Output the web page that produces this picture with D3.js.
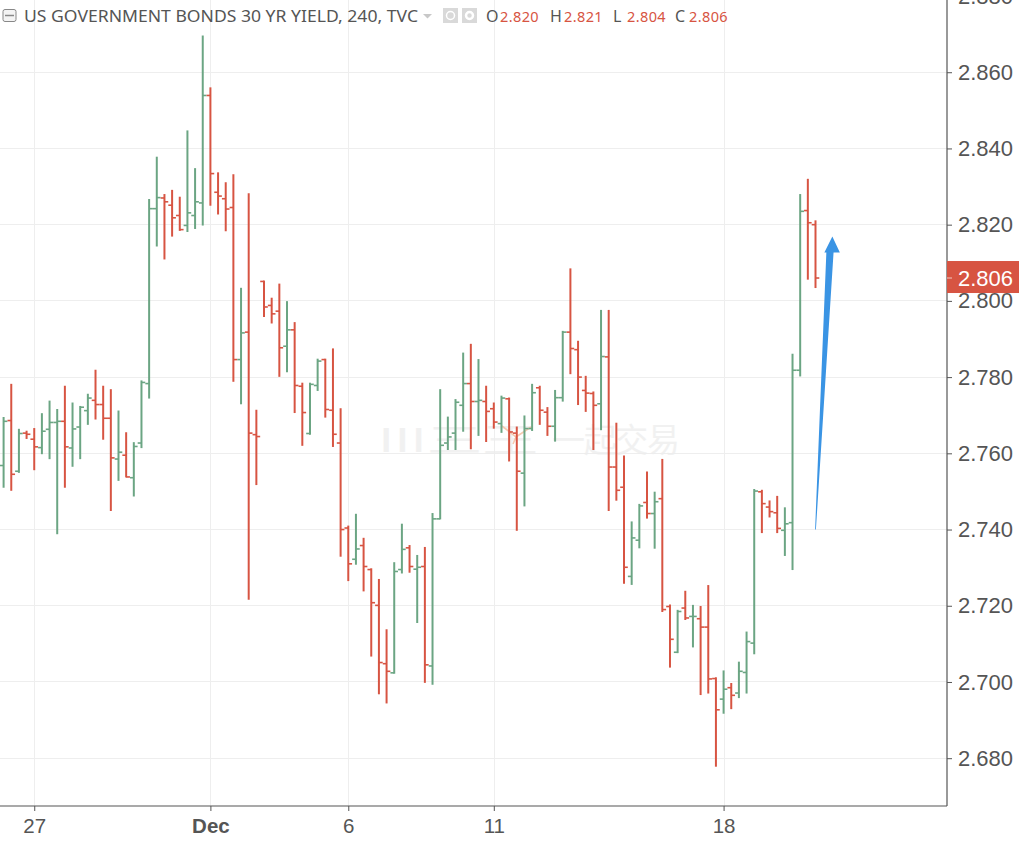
<!DOCTYPE html>
<html><head><meta charset="utf-8">
<script src="https://cdn.jsdelivr.net/npm/d3@7"></script>
<style>html,body{margin:0;padding:0;background:#fff;overflow:hidden}svg{display:block}</style>
</head><body><div id="chart"></div>
<script>
const opens=[2.7568,2.7686,2.7553,2.7653,2.7637,2.7615,2.7663,2.7681,2.7684,2.7614,2.7669,2.7712,2.7739,2.7728,2.7692,2.7585,2.7595,2.7536,2.7627,2.7783,2.8242,2.8270,2.8251,2.8224,2.8198,2.8224,2.8257,2.8539,2.8285,2.8268,2.8245,2.7846,2.7918,2.7649,2.8051,2.7988,2.7973,2.7881,2.7924,2.7776,2.7652,2.7778,2.7846,2.7713,2.7627,2.7404,2.7322,2.7358,2.7295,2.7201,2.7048,2.7024,2.7295,2.7352,2.7296,2.7303,2.7042,2.7428,2.7627,2.7653,2.7726,2.7783,2.7736,2.7736,2.7717,2.7678,2.7743,2.7653,2.7548,2.7665,2.7772,2.7708,2.7671,2.7746,2.7918,2.7872,2.7765,2.7757,2.7730,2.7853,2.7564,2.7511,2.7277,2.7372,2.7471,2.7442,2.7481,2.7198,2.7078,2.7194,2.7172,2.7166,2.7144,2.7009,2.6955,2.6985,2.6971,2.7025,2.7102,2.7499,2.7459,2.7444,2.7398,2.7418,2.7818,2.8237,2.820];
const highs=[2.7694,2.7781,2.7663,2.7658,2.7665,2.7704,2.7737,2.7715,2.7776,2.7732,2.7723,2.7755,2.7818,2.7776,2.7767,2.7711,2.7654,2.7628,2.7790,2.8266,2.8377,2.8279,2.8290,2.8272,2.8446,2.8347,2.8695,2.8559,2.8336,2.8310,2.8331,2.8033,2.8281,2.7713,2.8052,2.8007,2.8044,2.7998,2.7943,2.7784,2.7784,2.7847,2.7847,2.7874,2.7717,2.7409,2.7440,2.7377,2.7297,2.7269,2.7137,2.7313,2.7414,2.7358,2.7332,2.7353,2.7442,2.7767,2.7695,2.7741,2.7863,2.7886,2.7846,2.7776,2.7732,2.7750,2.7745,2.7669,2.7698,2.7781,2.7776,2.7720,2.7765,2.7920,2.8084,2.7894,2.7802,2.7761,2.7975,2.7975,2.7679,2.7593,2.7420,2.7466,2.7551,2.7498,2.7584,2.7202,2.7188,2.7238,2.7201,2.7198,2.7253,2.7011,2.7029,2.6996,2.7052,2.7131,2.7505,2.7503,2.7475,2.7487,2.7457,2.7860,2.8279,2.8319,2.821];
const lows=[2.7511,2.7503,2.7550,2.7639,2.7557,2.7599,2.7586,2.7389,2.7511,2.7566,2.7586,2.7676,2.7690,2.7637,2.7450,2.7529,2.7538,2.7488,2.7615,2.7745,2.8144,2.8110,2.8170,2.8185,2.8182,2.8190,2.8199,2.8251,2.8228,2.8184,2.7789,2.7730,2.7217,2.7518,2.7959,2.7942,2.7802,2.7814,2.7707,2.7621,2.7650,2.7765,2.7695,2.7618,2.7330,2.7266,2.7309,2.7239,2.7068,2.6969,2.6945,2.7023,2.7286,2.7288,2.7156,2.6999,2.6994,2.7428,2.7610,2.7610,2.7658,2.7612,2.7647,2.7631,2.7666,2.7655,2.7580,2.7398,2.7462,2.7660,2.7676,2.7647,2.7632,2.7737,2.7809,2.7728,2.7710,2.7610,2.7662,2.7450,2.7477,2.7259,2.7256,2.7352,2.7430,2.7351,2.7185,2.7039,2.7077,2.7164,2.7092,2.6967,2.6971,2.6779,2.6918,2.6930,2.6959,2.6971,2.7074,2.7392,2.7433,2.7392,2.7332,2.7295,2.7803,2.8057,2.8035];
const closes=[2.7684,2.7545,2.7652,2.7650,2.7617,2.7658,2.7681,2.7684,2.7617,2.7664,2.7721,2.7745,2.7728,2.7692,2.7588,2.7603,2.7538,2.7618,2.7786,2.8242,2.8271,2.8260,2.8218,2.8187,2.8231,2.8260,2.8539,2.8334,2.8275,2.8241,2.7846,2.7916,2.7653,2.7644,2.7984,2.7966,2.7877,2.7924,2.7778,2.7707,2.7781,2.7842,2.7715,2.7650,2.7400,2.7310,2.7349,2.7303,2.7208,2.7051,2.7028,2.7290,2.7348,2.7303,2.7301,2.7045,2.7428,2.7621,2.7643,2.7734,2.7783,2.7736,2.7739,2.7710,2.7682,2.7745,2.7656,2.7553,2.7665,2.7759,2.7713,2.7671,2.7746,2.7918,2.7875,2.7800,2.7758,2.7726,2.7854,2.7564,2.7503,2.7301,2.7378,2.7462,2.7442,2.7473,2.7190,2.7112,2.7185,2.7168,2.7172,2.7144,2.7008,2.6927,2.6981,2.6965,2.7028,2.7106,2.7501,2.7468,2.7447,2.7403,2.7415,2.7818,2.8235,2.8205,2.806];
const priceTicks=[2.68,2.70,2.72,2.74,2.76,2.78,2.80,2.82,2.84,2.86,2.88];
const timeLabels=["27","Dec","6","11","18"];
const timeIndex=[4,27,45,64,94];
const title="US GOVERNMENT BONDS 30 YR YIELD, 240, TVC";
const ohlcNames=["O","H","L","C"];
const ohlcValues=["2.820","2.821","2.804","2.806"];
const lastPrice=2.806;
const arrowFrom={i:106,v:2.740}, arrowTip={i:108.2,v:2.8169};

const W=1019,H=841,axisX=947,axisY=806;
const green="#6ba583",red="#d75442",ink="#555555",grid="#eeeeee";
const x=d3.scaleLinear().domain([0,106]).range([3.6,815.5]);
const y=d3.scaleLinear().domain([2.68,2.88]).range([758.2,-4.0]);
const svg=d3.select("#chart").append("svg").attr("width",W).attr("height",H);
const sans="'Liberation Sans',Arial,sans-serif", leg="'Noto Sans','Open Sans',sans-serif";

// grid
const g=svg.append("g").attr("shape-rendering","crispEdges").attr("stroke",grid).attr("stroke-width",1);
g.selectAll(".h").data(priceTicks).join("line").attr("x1",0).attr("x2",axisX).attr("y1",d=>y(d)).attr("y2",d=>y(d));
g.selectAll(".v").data(timeIndex).join("line").attr("y1",0).attr("y2",axisY).attr("x1",d=>x(d)+.5).attr("x2",d=>x(d)+.5);

// watermark
const wm=svg.append("g").attr("fill","#ededed").attr("font-family","'Noto Sans CJK SC'").attr("font-size",33).attr("opacity",.75);
wm.append("text").attr("x",378).attr("y",452).attr("textLength",160).attr("lengthAdjust","spacingAndGlyphs").text("III三王");
wm.append("text").attr("x",552).attr("y",452).text("一起交易").attr("textLength",128);
svg.append("path").attr("d","M502 426L516 437L531 427M516 437L513 444").attr("fill","none").attr("stroke","#f6c9b0").attr("stroke-width",1.6);

// OHLC bars
const idx=d3.range(opens.length);
const bars=svg.append("g").selectAll("g").data(idx).join("g")
  .attr("stroke",i=>closes[i]>=opens[i]?green:red).attr("fill","none");
bars.append("line").attr("stroke-width",2).attr("x1",i=>x(i)).attr("x2",i=>x(i)).attr("y1",i=>y(highs[i])-.5).attr("y2",i=>y(lows[i])+.5);
bars.append("line").attr("stroke-width",1.6).attr("x1",i=>x(i)-3.8).attr("x2",i=>x(i)).attr("y1",i=>y(opens[i])).attr("y2",i=>y(opens[i]));
bars.append("line").attr("stroke-width",1.6).attr("x1",i=>x(i)).attr("x2",i=>x(i)+3.8).attr("y1",i=>y(closes[i])).attr("y2",i=>y(closes[i]));

// blue arrow
const ax0=x(arrowFrom.i),ay0=y(arrowFrom.v),ax1=x(arrowTip.i),ay1=y(arrowTip.v);
svg.append("path").attr("fill","#3a94e4").attr("d",d3.line()([
 [ax0-.4,ay0],[ax1-6,ay1+16],[ax1-8,ay1+16],[ax1,ay1],[ax1+7.5,ay1+16],[ax1+1.2,ay1+16],[ax0+.4,ay0]])+"Z");

// axes
const yAxis=d3.axisRight(y).tickValues(priceTicks).tickFormat(d3.format(".3f")).tickSize(5).tickPadding(6);
const ya=svg.append("g").attr("transform",`translate(${axisX},0)`).call(yAxis);
ya.select(".domain").attr("d",`M0,0V${axisY}`).attr("stroke",ink).attr("stroke-width",1.2);
ya.selectAll(".tick line").attr("stroke",ink);
ya.selectAll(".tick text").attr("font-family",sans).attr("font-size",22).attr("fill",ink);
const xAxis=d3.axisBottom(x).tickValues(timeIndex).tickFormat((d,i)=>timeLabels[i]).tickSize(5).tickPadding(7);
const xa=svg.append("g").attr("transform",`translate(0,${axisY})`).call(xAxis);
xa.select(".domain").attr("d",`M0,0H${axisX}`).attr("stroke",ink).attr("stroke-width",1.2);
xa.selectAll(".tick line").attr("stroke",ink);
xa.selectAll(".tick text").attr("font-family",sans).attr("font-size",20.5).attr("fill",ink).attr("font-weight",d=>d===27?"bold":"normal");

// last price label
const ly=y(lastPrice);
svg.append("rect").attr("x",axisX).attr("y",ly-17).attr("width",W-axisX).attr("height",32).attr("fill",red);
svg.append("line").attr("x1",axisX).attr("x2",axisX+5).attr("y1",ly).attr("y2",ly).attr("stroke","#f3c6bf");
svg.append("text").attr("x",958).attr("y",ly).attr("dy","0.35em").attr("font-family",sans).attr("font-size",22).attr("fill","#fff").text(d3.format(".3f")(lastPrice));

// legend
svg.append("rect").attr("x",3).attr("y",9.5).attr("width",13).attr("height",12).attr("rx",2).attr("fill","#f4f4f4").attr("stroke","#888");
svg.append("line").attr("x1",5).attr("x2",14).attr("y1",15.5).attr("y2",15.5).attr("stroke","#888").attr("stroke-width",1.5);
svg.append("text").attr("x",24).attr("y",22).attr("font-family",leg).attr("font-size",16).attr("fill",ink).attr("textLength",394).attr("lengthAdjust","spacingAndGlyphs").text(title);
svg.append("path").attr("d","M423 14H432L427.5 18.5Z").attr("fill","#c8c8c8");
[443,462].forEach(px=>svg.append("rect").attr("x",px).attr("y",8).attr("width",15).attr("height",15).attr("fill","#d9d9d9"));
svg.append("circle").attr("cx",450.5).attr("cy",15.5).attr("r",4).attr("fill","none").attr("stroke","#fff").attr("stroke-width",1.5);
svg.append("circle").attr("cx",469.5).attr("cy",15.5).attr("r",3.5).attr("fill","none").attr("stroke","#fff").attr("stroke-width",2.5);
const legX=[486,550,613,675];
ohlcNames.forEach((n,k)=>{
 svg.append("text").attr("x",legX[k]).attr("y",22).attr("font-family",leg).attr("font-size",16).attr("fill",ink).text(n);
 svg.append("text").attr("x",legX[k]+14).attr("y",22).attr("font-family",leg).attr("font-size",14.5).attr("fill",red).attr("letter-spacing",.4).text(ohlcValues[k]);
});
</script></body></html>
